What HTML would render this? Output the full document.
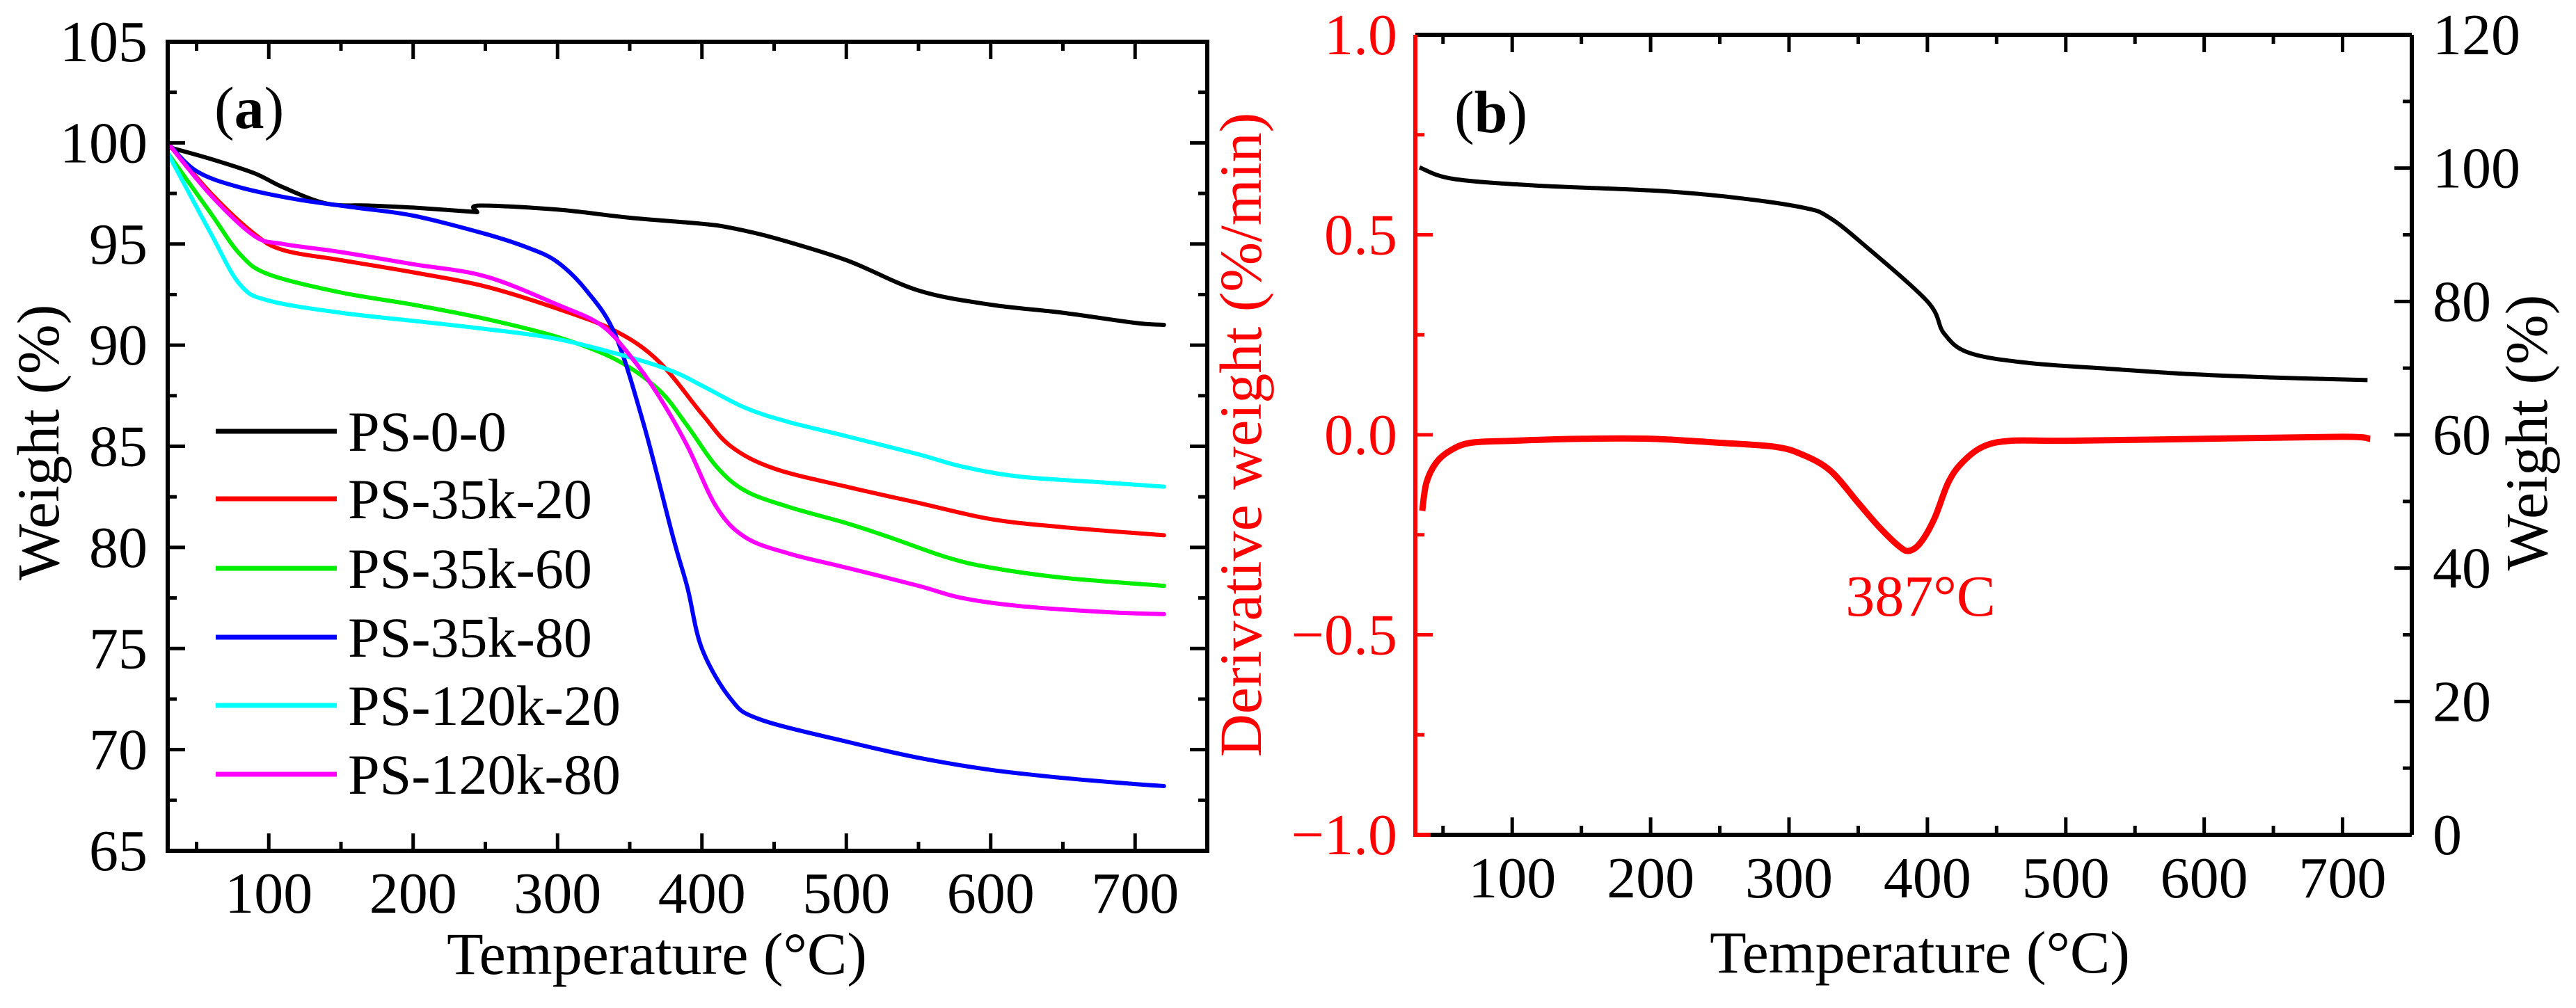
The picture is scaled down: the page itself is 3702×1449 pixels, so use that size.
<!DOCTYPE html>
<html><head><meta charset="utf-8"><style>
html,body{margin:0;padding:0;background:#fff;}
svg{display:block;}
text{font-family:"Liberation Serif",serif;}
</style></head><body>
<svg id="fig" width="3702" height="1449" viewBox="0 0 3702 1449" xmlns="http://www.w3.org/2000/svg"></svg>
<script>
// ---- Panel (a) data ----
const aNames = ["PS-0-0","PS-35k-20","PS-35k-60","PS-35k-80","PS-120k-20","PS-120k-80"];
const aColors = ["#000000","#ff0000","#00ee00","#0000ff","#00ffff","#ff00ff"];
const aX0 = [30,60,90,110,140,170,200,240,244,246,300,350,400,420,450,500,550,600,650,700,720];
const aY0 = [99.8,99.2,98.5,97.8,97.0,96.9,96.8,96.6,96.6,96.9,96.7,96.3,96.0,95.8,95.3,94.2,92.7,92.0,91.6,91.1,91.0];
const aX1 = [30,60,90,110,150,200,250,300,340,370,400,420,450,500,550,600,650,720];
const aY1 = [100,97.5,95.5,94.7,94.2,93.6,92.9,91.8,90.7,89.2,86.6,85.0,83.9,83.0,82.2,81.4,81.0,80.6];
const aX2 = [30,60,80,100,150,200,250,300,340,370,390,410,430,460,500,530,570,600,650,720];
const aY2 = [99.5,96.5,94.5,93.5,92.6,92.0,91.3,90.4,89.3,87.8,86.0,84.0,82.8,82.0,81.2,80.5,79.5,79.0,78.5,78.1];
const aX3 = [30,50,80,120,160,200,250,280,300,320,340,360,380,390,400,420,440,500,550,600,650,700,720];
const aY3 = [100,98.6,97.8,97.2,96.8,96.4,95.5,94.8,94.1,92.7,90.5,86.0,80.5,78.0,75.0,72.5,71.5,70.4,69.6,69.0,68.6,68.3,68.2];
const aX4 = [30,60,80,100,150,200,250,300,350,380,400,430,460,500,550,580,620,680,720];
const aY4 = [99.5,95.5,93.0,92.2,91.6,91.2,90.8,90.3,89.4,88.7,88.0,86.9,86.2,85.5,84.6,84.0,83.5,83.2,83.0];
const aX5 = [30,60,90,110,150,200,250,300,330,350,370,390,410,430,460,500,550,580,620,680,720];
const aY5 = [100,97.4,95.4,95.0,94.6,94.0,93.4,92.0,91.0,89.5,87.5,85.0,82.0,80.5,79.7,79.0,78.1,77.5,77.1,76.8,76.7];
const aXs=[aX0,aX1,aX2,aX3,aX4,aX5], aYs=[aY0,aY1,aY2,aY3,aY4,aY5];
const xTicks = [100,200,300,400,500,600,700];
const aYTicks = [65,70,75,80,85,90,95,100,105];
// ---- Panel (b) data ----
const bTgX = [33,57,116,205,264,312,329,353,400,412,430,472,531,590,649,718];
const bTgY = [100.1,98.4,97.4,96.6,95.5,94.0,92.6,88.7,80.0,75.2,72.3,70.8,69.9,69.1,68.6,68.2];
const bDtgX = [35,38,45,55,70,100,150,200,250,290,310,330,350,365,380,387,395,405,415,425,440,460,500,600,700,720];
const bDtgY = [-0.19,-0.12,-0.07,-0.04,-0.02,-0.015,-0.01,-0.01,-0.02,-0.03,-0.05,-0.09,-0.17,-0.23,-0.28,-0.29,-0.27,-0.21,-0.12,-0.07,-0.03,-0.015,-0.015,-0.01,-0.005,-0.01];
const bLeftTicks = ["1.0","0.5","0.0","\u22120.5","\u22121.0"];
const bLeftVals = [1,0.5,0,-0.5,-1];
const bRightTicks = [0,20,40,60,80,100,120];

const svg=document.getElementById('fig');
const NS="http://www.w3.org/2000/svg";
function mk(tag,attrs,parent){const e=document.createElementNS(NS,tag);for(const k in attrs)e.setAttribute(k,attrs[k]);(parent||svg).appendChild(e);return e;}
function txt(s,attrs,parent){const e=mk('text',attrs,parent);e.textContent=s;return e;}
function smooth(pts){
  let d='M'+pts[0][0].toFixed(1)+','+pts[0][1].toFixed(1);
  for(let i=0;i<pts.length-1;i++){
    const p0=pts[Math.max(0,i-1)],p1=pts[i],p2=pts[i+1],p3=pts[Math.min(pts.length-1,i+2)];
    const c1x=p1[0]+(p2[0]-p0[0])/6,c1y=p1[1]+(p2[1]-p0[1])/6;
    const c2x=p2[0]-(p3[0]-p1[0])/6,c2y=p2[1]-(p3[1]-p1[1])/6;
    d+=' C'+c1x.toFixed(1)+','+c1y.toFixed(1)+' '+c2x.toFixed(1)+','+c2y.toFixed(1)+' '+p2[0].toFixed(1)+','+p2[1].toFixed(1);
  }
  return d;
}

// ===== Panel A =====
const A={l:241,r:1735,t:60,b:1223,x0:30,x1:750,y0:65,y1:105};
const ax=v=>A.l+(v-A.x0)/(A.x1-A.x0)*(A.r-A.l);
const ay=v=>A.b-(v-A.y0)/(A.y1-A.y0)*(A.b-A.t);
const gA=mk('g',{});


for(let i=0;i<6;i++){
  const d=smooth(aXs[i].map((x,j)=>[ax(x),ay(aYs[i][j])]));
  const p=mk('path',{d:d,fill:'none',stroke:aColors[i],'stroke-width':6,'stroke-linejoin':'round','stroke-linecap':'round'},gA);
  
  
}
for(let v=50;v<=750;v+=50){
  const major=v%100===0, L=major?25:13;
  mk('line',{x1:ax(v),x2:ax(v),y1:A.b,y2:A.b-L,stroke:'#000','stroke-width':5},gA);
  mk('line',{x1:ax(v),x2:ax(v),y1:A.t,y2:A.t+L,stroke:'#000','stroke-width':5},gA);
}
for(let v=65;v<=105;v+=2.5){
  const major=v%5===0, L=major?25:13;
  mk('line',{x1:A.l,x2:A.l+L,y1:ay(v),y2:ay(v),stroke:'#000','stroke-width':5},gA);
  mk('line',{x1:A.r,x2:A.r-L,y1:ay(v),y2:ay(v),stroke:'#000','stroke-width':5},gA);
}
mk('rect',{x:A.l,y:A.t,width:A.r-A.l,height:A.b-A.t,fill:'none',stroke:'#000','stroke-width':6},gA);
xTicks.forEach(v=>{const t=txt(String(v),{x:ax(v),y:1312,'font-size':84,'text-anchor':'middle'},gA);
 });
aYTicks.forEach(v=>{const t=txt(String(v),{x:212,y:ay(v)+28,'font-size':84,'text-anchor':'end'},gA);
 });
let t=txt('Temperature (°C)',{x:944,y:1400,'font-size':86,'text-anchor':'middle'},gA);

t=txt('Weight (%)',{x:0,y:0,'font-size':86,'text-anchor':'middle',transform:'translate(84,636) rotate(-90)'},gA);

t=mk('text',{x:308,y:184,'font-size':86},gA);
t.innerHTML='(<tspan font-weight="bold">a</tspan>)';

const legY=[620,717,817,916,1014,1113];
for(let i=0;i<6;i++){
  const g=mk('g',{},gA);
  
  
  mk('line',{x1:310,x2:484,y1:legY[i],y2:legY[i],stroke:aColors[i],'stroke-width':7},g);
  txt(aNames[i],{x:500,y:legY[i]+28,'font-size':82},g);
}

// ===== Panel B =====
const B={l:2034,r:3466,t:50,b:1200,x0:30,x1:750};
const bx=v=>B.l+(v-B.x0)/(B.x1-B.x0)*(B.r-B.l);
const byL=v=>B.b-(v+1)/2*(B.b-B.t);
const byR=v=>B.b-v/120*(B.b-B.t);
const gB=mk('g',{});


let d=smooth(bTgX.map((x,j)=>[bx(x),byR(bTgY[j])]));
let p=mk('path',{d:d,fill:'none',stroke:'#000','stroke-width':6,'stroke-linejoin':'round'},gB);

d=smooth(bDtgX.map((x,j)=>[bx(x),byL(bDtgY[j])]));
p=mk('path',{d:d,fill:'none',stroke:'#ff0000','stroke-width':9,'stroke-linejoin':'round'},gB);

for(let v=50;v<=750;v+=50){
  const major=v%100===0, L=major?25:13;
  mk('line',{x1:bx(v),x2:bx(v),y1:B.b,y2:B.b-L,stroke:'#000','stroke-width':5},gB);
  mk('line',{x1:bx(v),x2:bx(v),y1:B.t,y2:B.t+L,stroke:'#000','stroke-width':5},gB);
}
for(let v=-1;v<=1;v+=0.25){
  const major=Math.abs(v*2-Math.round(v*2))<1e-6, L=major?25:13;
  mk('line',{x1:B.l,x2:B.l+L,y1:byL(v),y2:byL(v),stroke:'#ff0000','stroke-width':5},gB);
}
for(let v=0;v<=120;v+=10){
  const major=v%20===0, L=major?25:13;
  mk('line',{x1:B.r,x2:B.r-L,y1:byR(v),y2:byR(v),stroke:'#000','stroke-width':5},gB);
}
mk('line',{x1:B.l,x2:B.r,y1:B.t,y2:B.t,stroke:'#000','stroke-width':6},gB);
mk('line',{x1:B.l,x2:B.r,y1:B.b,y2:B.b,stroke:'#000','stroke-width':6},gB);
mk('line',{x1:B.r,x2:B.r,y1:B.t,y2:B.b,stroke:'#000','stroke-width':6},gB);
mk('line',{x1:B.l,x2:2056,y1:B.b,y2:B.b,stroke:'#ff0000','stroke-width':6},gB);
mk('line',{x1:B.l,x2:B.l,y1:B.t,y2:B.b+3,stroke:'#ff0000','stroke-width':6},gB);
xTicks.forEach(v=>{const t=txt(String(v),{x:bx(v),y:1290,'font-size':84,'text-anchor':'middle'},gB);
 });
bLeftVals.forEach((v,i)=>{const t=txt(bLeftTicks[i],{x:2008,y:byL(v)+28,'font-size':84,'text-anchor':'end',fill:'#ff0000'},gB);
 });
bRightTicks.forEach(v=>{const t=txt(String(v),{x:3496,y:byR(v)+28,'font-size':84,'text-anchor':'start'},gB);
 });
t=txt('Temperature (°C)',{x:2759,y:1398,'font-size':86,'text-anchor':'middle'},gB);

t=txt('Derivative weight (%/min)',{x:0,y:0,'font-size':86,'text-anchor':'middle',fill:'#ff0000',transform:'translate(1812,625) rotate(-90)'},gB);

t=txt('Weight (%)',{x:0,y:0,'font-size':86,'text-anchor':'middle',transform:'translate(3660,622) rotate(-90)'},gB);

t=mk('text',{x:2090,y:190,'font-size':86},gB);
t.innerHTML='(<tspan font-weight="bold">b</tspan>)';

t=txt('387°C',{x:2760,y:885,'font-size':84,'text-anchor':'middle',fill:'#ff0000'},gB);

</script>
</body></html>
